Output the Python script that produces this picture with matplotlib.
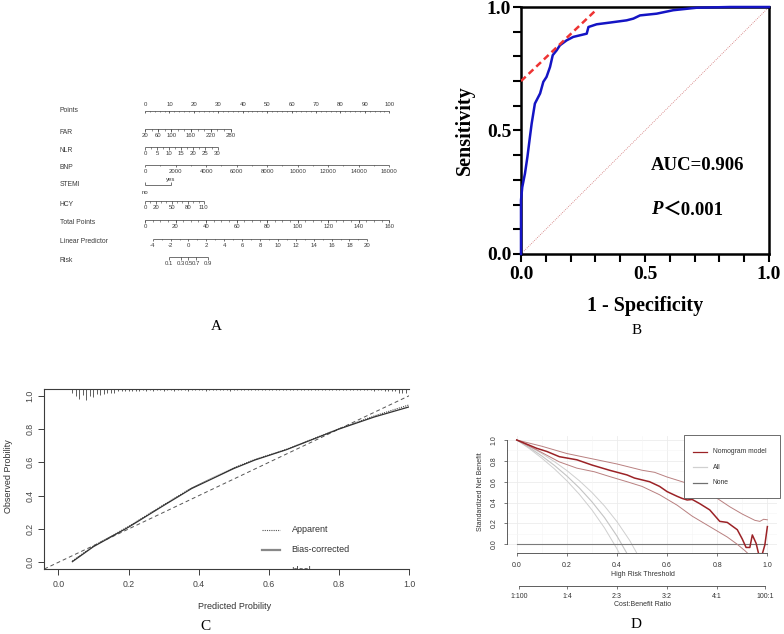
import numpy as np
import matplotlib
matplotlib.use('Agg')
import matplotlib.pyplot as plt
from matplotlib.transforms import Affine2D
from matplotlib.patches import Rectangle

# ============ DATA ============
# --- A: nomogram ---
points_ticks = [0, 10, 20, 30, 40, 50, 60, 70, 80, 90, 100]
far_values = [20, 60, 100, 160, 220, 280]
far_min = 20
far_points_per_unit = 35.0 / 260
nlr_values = [0, 5, 10, 15, 20, 25, 30]
nlr_points_per_unit = 0.99
bnp_values = [0, 2000, 4000, 6000, 8000, 10000, 12000, 14000, 16000]
bnp_points_per_unit = 100 / 16000
stemi_levels = ['no', 'yes']
stemi_points = [0, 10.5]
hcy_values = [0, 20, 50, 80, 110]
hcy_points_per_unit = 0.219
total_points_ticks = [0, 20, 40, 60, 80, 100, 120, 140, 160]
lp_ticks = [-4, -2, 0, 2, 4, 6, 8, 10, 12, 14, 16, 18, 20]
lp_intercept = -4.86
lp_per_total_point = 0.1707
risk_ticks = [0.1, 0.3, 0.5, 0.7, 0.9]
nomo_rows = ['Points', 'FAR', 'NLR', 'BNP', 'STEMI', 'HCY', 'Total Points',
             'Linear Predictor', 'Risk']

# --- B: ROC ---
roc_fpr = [0, 0, 0.005, 0.016, 0.026, 0.036, 0.043, 0.056, 0.077, 0.09, 0.103,
           0.117, 0.128, 0.144, 0.157, 0.184, 0.211, 0.265, 0.272, 0.305, 0.359,
           0.426, 0.453, 0.48, 0.547, 0.614, 0.708, 0.843, 1.0]
roc_tpr = [0, 0.218, 0.27, 0.326, 0.394, 0.474, 0.528, 0.609, 0.65, 0.697, 0.717,
           0.757, 0.805, 0.825, 0.845, 0.865, 0.879, 0.892, 0.919, 0.93, 0.937,
           0.946, 0.953, 0.966, 0.973, 0.987, 0.997, 1.0, 1.0]
tangent_x = [0.0, 0.305]
tangent_y = [0.70, 0.99]
auc_text = 'AUC=0.906'
p_text = '＜0.001'

# --- C: calibration ---
cal_pred = [0.04, 0.1, 0.2, 0.3, 0.38, 0.5, 0.56, 0.65, 0.8, 0.9, 1.0]
cal_apparent = [0.008, 0.098, 0.215, 0.345, 0.447, 0.567, 0.617, 0.678, 0.802, 0.878, 0.945]
cal_bias = [0.004, 0.094, 0.211, 0.341, 0.443, 0.563, 0.614, 0.676, 0.800, 0.872, 0.933]
rug_counts = [3, 6, 8, 5, 9, 6, 7, 4, 5, 4, 3, 3, 3, 2, 2, 2, 2, 2, 2, 2,
              1, 2, 1, 2, 1, 1, 2, 1, 1, 2, 1, 1, 1, 2, 1, 1, 1, 1, 2, 1,
              1, 1, 1, 1, 1, 2, 1, 1, 1, 1, 1, 1, 1, 1, 1, 1, 1, 1, 1, 1,
              1, 1, 1, 1, 1, 1, 1, 1, 1, 1, 1, 1, 1, 1, 1, 1, 1, 1, 1, 1,
              1, 1, 1, 1, 1, 1, 2, 1, 1, 2, 2, 2, 2, 3, 3, 3]
cal_legend = ['Apparent', 'Bias-corrected', 'Ideal']

# --- D: decision curve ---
model_t = [0, 0.04, 0.08, 0.12, 0.17, 0.24, 0.3, 0.37, 0.44, 0.47, 0.53, 0.57, 0.6,
           0.64, 0.66, 0.68, 0.7, 0.73, 0.77, 0.81, 0.84, 0.88, 0.9, 0.915, 0.93,
           0.94, 0.955, 0.965, 0.98, 0.99, 1.0]
model_nb = [1.0, 0.96, 0.92, 0.89, 0.84, 0.81, 0.76, 0.71, 0.665, 0.635, 0.60, 0.555,
            0.505, 0.46, 0.44, 0.425, 0.43, 0.39, 0.33, 0.22, 0.21, 0.14, 0.05, -0.03,
            -0.03, 0.09, 0.01, -0.09, -0.09, -0.005, 0.17]
upper_t = [0, 0.1, 0.2, 0.3, 0.4, 0.5, 0.55, 0.6, 0.7, 0.75, 0.8, 0.85, 0.9, 0.95,
           0.97, 0.985, 1.0]
upper_nb = [1.0, 0.94, 0.87, 0.82, 0.77, 0.71, 0.69, 0.645, 0.57, 0.51, 0.44, 0.36,
            0.29, 0.23, 0.22, 0.24, 0.235]
lower_t = [0, 0.08, 0.17, 0.24, 0.31, 0.37, 0.44, 0.5, 0.57, 0.64, 0.7, 0.77, 0.84,
           0.88, 0.91, 0.95]
lower_nb = [1.0, 0.905, 0.79, 0.73, 0.695, 0.65, 0.6, 0.555, 0.475, 0.375, 0.27, 0.17,
            0.07, 0.0, -0.06, -0.15]
all_t = [0, 0.05, 0.1, 0.15, 0.2, 0.25, 0.3, 0.35, 0.4, 0.45, 0.5]
all_mid = [1.0, 0.927, 0.847, 0.757, 0.655, 0.54, 0.408, 0.257, 0.079, -0.13, -0.38]
all_low = [1.0, 0.918, 0.826, 0.724, 0.609, 0.479, 0.33, 0.158, -0.043, -0.28, -0.56]
all_high = [1.0, 0.938, 0.87, 0.793, 0.707, 0.609, 0.497, 0.368, 0.217, 0.04, -0.174]
none_t = [0, 1]
none_nb = [0, 0]
cb_t = [0.0099, 0.2, 0.4, 0.6, 0.8, 0.99]
cb_labels = ['1:100', '1:4', '2:3', '3:2', '4:1', '100:1']
dca_legend = ['Nomogram model', 'All', 'None']

# ============ FIGURE ============
W, H = 784, 634
fig = plt.figure(figsize=(7.84, 6.34), dpi=100)
fig.patch.set_facecolor('white')
PX = Affine2D().scale(1 / W, -1 / H).translate(0, 1) + fig.transFigure

SANS = ['Liberation Sans', 'DejaVu Sans']
SERIF = ['Liberation Serif', 'Noto Sans CJK SC', 'DejaVu Serif']


def box(l, t, r, b):
    return [l / W, 1 - b / H, (r - l) / W, (b - t) / H]


def ftext(x, y, s, **kw):
    fig.text(x / W, 1 - y / H, s, **kw)


# ---------------- Panel A ----------------
axA = fig.add_axes(box(145, 90, 389.3, 275))
axA.set_xlim(0, 100)
axA.set_ylim(275, 90)
axA.axis('off')
cA = '#3a3a3a'
fsL, fsN = 4.9, 4.3
row_y = dict(zip(nomo_rows, [110.5, 132, 150, 167.5, 185, 204, 223, 241.5, 260]))


def draw_scale(y, major_pos, labels, minor_pos=(), above=False, up=False):
    allp = list(major_pos) + list(minor_pos)
    axA.hlines(y, min(allp), max(allp), color=cA, lw=0.5, clip_on=False)
    d = -1 if up else 1
    axA.vlines(major_pos, y, y + d * 2.6, color=cA, lw=0.5, clip_on=False)
    if len(minor_pos):
        axA.vlines(minor_pos, y, y + d * 1.6, color=cA, lw=0.4, clip_on=False)
    for p, l in zip(major_pos, labels):
        axA.text(p, y - 5.5 if above else y + 6.8, l, ha='center', va='center',
                 fontsize=fsN, color=cA, family=SANS, clip_on=False)


label_x = -34.8
for r in nomo_rows:
    axA.text(label_x, row_y[r], r, ha='left', va='center', fontsize=fsL, color=cA,
             family=SANS, clip_on=False)

# Points
draw_scale(row_y['Points'], points_ticks, [str(v) for v in points_ticks],
           minor_pos=np.arange(0, 101, 2), above=True)
# FAR
far_pos = [(v - far_min) * far_points_per_unit for v in far_values]
draw_scale(row_y['FAR'] - 3, far_pos, [str(v) for v in far_values],
           minor_pos=(np.arange(20, 281, 20) - far_min) * far_points_per_unit)
# NLR
draw_scale(row_y['NLR'] - 3, [v * nlr_points_per_unit for v in nlr_values],
           [str(v) for v in nlr_values],
           minor_pos=np.arange(2.5, 30, 5) * nlr_points_per_unit)
# BNP
draw_scale(row_y['BNP'] - 3, [v * bnp_points_per_unit for v in bnp_values],
           [str(v) for v in bnp_values],
           minor_pos=np.arange(1000, 16000, 2000) * bnp_points_per_unit)
# STEMI
ys = row_y['STEMI']
axA.hlines(ys, stemi_points[0], stemi_points[1], color=cA, lw=0.5)
axA.vlines(stemi_points, ys, ys - 2.6, color=cA, lw=0.5)
axA.text(stemi_points[0], ys + 7, stemi_levels[0], ha='center', va='center',
         fontsize=fsN, color=cA, family=SANS)
axA.text(stemi_points[1], ys - 5.8, stemi_levels[1], ha='center', va='center',
         fontsize=fsN, color=cA, family=SANS)
# HCY
draw_scale(row_y['HCY'] - 3, [v * hcy_points_per_unit for v in hcy_values],
           [str(v) for v in hcy_values],
           minor_pos=np.array([10, 30, 40, 60, 70, 90, 100]) * hcy_points_per_unit)
# Total points
tp2pts = 100 / 160
draw_scale(row_y['Total Points'] - 3, [v * tp2pts for v in total_points_ticks],
           [str(v) for v in total_points_ticks],
           minor_pos=np.arange(0, 161, 5) * tp2pts)


def lp_to_pts(lp):
    return (np.asarray(lp, float) - lp_intercept) / lp_per_total_point * tp2pts


draw_scale(row_y['Linear Predictor'] - 3, lp_to_pts(lp_ticks),
           [str(v) for v in lp_ticks], minor_pos=lp_to_pts(np.arange(-3, 20, 2)))
risk_lp = np.log(np.array(risk_ticks) / (1 - np.array(risk_ticks)))
draw_scale(row_y['Risk'] - 3, lp_to_pts(risk_lp), [str(v) for v in risk_ticks])

ftext(216, 327, 'A', ha='center', va='center', fontsize=11, family=SERIF)

# ---------------- Panel B ----------------
axB = fig.add_axes(box(521, 7, 769, 254))
axB.set_xlim(0, 1)
axB.set_ylim(0, 1)
axB.plot([0, 1], [0, 1], color='#d07070', lw=0.6, ls=(0, (1, 1.5)))
axB.plot(roc_fpr, roc_tpr, color='#1414c4', lw=1.8, clip_on=False, zorder=3)
axB.plot(tangent_x, tangent_y, color='#ee3333', lw=1.8, ls=(0, (2.6, 1.6)), zorder=4)
for s in axB.spines.values():
    s.set_linewidth(1.8)
axB.set_xticks([0, 0.5, 1.0])
axB.set_yticks([0, 0.5, 1.0])
axB.set_xticks(np.arange(0, 1.01, 0.1), minor=True)
axB.set_yticks(np.arange(0, 1.01, 0.1), minor=True)
axB.set_xticklabels(['0.0', '0.5', '1.0'])
axB.set_yticklabels(['0.0', '0.5', '1.0'])
axB.tick_params(which='both', direction='out', length=6, width=1.5)
axB.tick_params(axis='x', pad=3)
axB.tick_params(axis='y', pad=1)
for lab in axB.get_xticklabels() + axB.get_yticklabels():
    lab.set_fontfamily(SERIF)
    lab.set_fontweight('bold')
    lab.set_fontsize(14)
ftext(465, 130.5, 'Sensitivity', rotation=90, ha='center', va='center',
      fontsize=14.5, fontweight='bold', family=SERIF)
ftext(645, 306.5, '1 - Specificity', ha='center', va='center',
      fontsize=14.5, fontweight='bold', family=SERIF)
ftext(651, 166, auc_text, ha='left', va='center', fontsize=13.5,
      fontweight='bold', family=SERIF)
ftext(651, 210, 'P', ha='left', va='center', fontsize=13.5, fontweight='bold',
      fontstyle='italic', family=SERIF)
ftext(662, 210, p_text, ha='left', va='center', fontsize=13.5, fontweight='bold',
      family=SERIF)
ftext(637, 331, 'B', ha='center', va='center', fontsize=11, family=SERIF)

# ---------------- Panel C ----------------
cC = '#3c3c3c'
axC = fig.add_axes(box(44.3, 389, 409.3, 569))
axC.set_xlim(-0.04, 1.0)
axC.set_ylim(-0.04, 1.04)
axC.spines['right'].set_visible(False)
for s in ['left', 'top', 'bottom']:
    axC.spines[s].set_linewidth(0.8)
    axC.spines[s].set_color(cC)
axC.plot([-0.04, 1.04], [-0.04, 1.04], color='#555555', lw=0.7, ls=(0, (4, 3)))
axC.plot(cal_pred, cal_apparent, color='#444444', lw=0.8, ls=(0, (1, 1)))
axC.plot(cal_pred, cal_bias, color='#333333', lw=0.9)
rug_x = np.arange(len(rug_counts)) * 0.01 + 0.04
rug_len = np.array(rug_counts) * 1.2 / 166.6
axC.vlines(rug_x, 1.04 - rug_len, 1.04, color='#444444', lw=0.6)
ticks = [0, 0.2, 0.4, 0.6, 0.8, 1.0]
axC.set_xticks(ticks)
axC.set_yticks(ticks)
axC.set_xticklabels(['%.1f' % t for t in ticks])
axC.set_yticklabels(['%.1f' % t for t in ticks], rotation=90, va='center')
axC.tick_params(direction='out', length=4, width=0.7, color=cC, labelsize=6.3,
                labelcolor='#444444')
axC.tick_params(axis='x', pad=4)
axC.tick_params(axis='y', pad=3)
for lab in axC.get_xticklabels() + axC.get_yticklabels():
    lab.set_fontfamily(SANS)
# legend (clipped by plot region like the original)
leg_styles = [(0, (1, 1)), '-', (0, (3, 2))]
leg_colors = ['#555555', '#888888', '#555555']
leg_lw = [0.8, 1.6, 0.8]
for i, (lab, y) in enumerate(zip(cal_legend, [530, 550, 570.5])):
    axC.plot([262, 280], [y, y], transform=PX, color=leg_colors[i],
             lw=leg_lw[i], ls=leg_styles[i], clip_on=True,
             clip_box=axC.bbox)
    t = axC.text(291.5, y, lab, transform=PX, ha='left', va='center',
                 fontsize=6.5, color='#333333', family=SANS, clip_on=True)
ftext(235, 606.5, 'Predicted Probility', ha='center', va='center', fontsize=6.5,
      color='#333333', family=SANS)
ftext(8.5, 476.5, 'Observed Probility', rotation=90, ha='center', va='center',
      fontsize=6.5, color='#333333', family=SANS)
ftext(205, 626, 'C', ha='center', va='center', fontsize=11, family=SERIF)

# ---------------- Panel D ----------------
cD = '#444444'
axD = fig.add_axes(box(506.7, 435.8, 777.4, 553.3))
axD.set_xlim(-0.04, 1.04)
axD.set_ylim(-0.086, 1.04)
for s in ['top', 'right']:
    axD.spines[s].set_visible(False)
axD.spines['left'].set_bounds(0, 1)
axD.spines['bottom'].set_bounds(0, 1)
for s in ['left', 'bottom']:
    axD.spines[s].set_linewidth(0.6)
    axD.spines[s].set_color(cD)
gt = [0, 0.2, 0.4, 0.6, 0.8, 1.0]
for g in gt:
    axD.axvline(g, color='#ececec', lw=0.6, zorder=0)
    axD.axhline(g, color='#ececec', lw=0.6, zorder=0)
for g in [0.1, 0.3, 0.5, 0.7, 0.9]:
    axD.axvline(g, color='#f5f5f5', lw=0.4, zorder=0)
    axD.axhline(g, color='#f5f5f5', lw=0.4, zorder=0)
axD.plot(all_t, all_low, color='#cfcfcf', lw=0.7)
axD.plot(all_t, all_high, color='#cfcfcf', lw=0.7)
axD.plot(all_t, all_mid, color='#c4c4c4', lw=0.8)
axD.plot(none_t, none_nb, color='#7a7a7a', lw=0.8)
axD.plot(upper_t, upper_nb, color='#b98080', lw=0.7)
axD.plot(lower_t, lower_nb, color='#b98080', lw=0.7)
axD.plot(model_t, model_nb, color='#9b2226', lw=1.1)
axD.set_xticks(gt)
axD.set_yticks(gt)
axD.set_xticklabels(['%.1f' % t for t in gt])
axD.set_yticklabels(['%.1f' % t for t in gt], rotation=90, va='center')
axD.tick_params(direction='out', length=2.5, width=0.5, color=cD, labelsize=5,
                labelcolor='#333333', pad=4)
for lab in axD.get_xticklabels() + axD.get_yticklabels():
    lab.set_fontfamily(SANS)
ftext(642.5, 575, 'High Risk Threshold', ha='center', va='center', fontsize=5,
      color='#333333', family=SANS)
ftext(480, 491.5, 'Standardized Net Benefit', rotation=90, ha='center',
      va='center', fontsize=5, color='#333333', family=SANS)

# cost:benefit axis
axD2 = fig.add_axes(box(506.7, 575, 777.4, 585.7))
axD2.set_xlim(-0.04, 1.04)
axD2.patch.set_visible(False)
for s in ['top', 'right', 'left']:
    axD2.spines[s].set_visible(False)
axD2.spines['bottom'].set_bounds(cb_t[0], cb_t[-1])
axD2.spines['bottom'].set_linewidth(0.6)
axD2.spines['bottom'].set_color(cD)
axD2.set_yticks([])
axD2.set_xticks(cb_t)
axD2.set_xticklabels(cb_labels)
axD2.tick_params(direction='out', length=2.5, width=0.5, color=cD, labelsize=5,
                 labelcolor='#333333', pad=3)
for lab in axD2.get_xticklabels():
    lab.set_fontfamily(SANS)
ftext(643, 604.3, 'Cost:Benefit Ratio', ha='center', va='center', fontsize=5,
      color='#333333', family=SANS)

# legend
axD.add_patch(Rectangle((684, 435), 96, 63.3, transform=PX, clip_on=False,
                        facecolor='white', edgecolor='#555555', lw=0.6, zorder=5))
leg_c = ['#9b2226', '#d0d0d0', '#707070']
for i, (lab, y) in enumerate(zip(dca_legend, [451.7, 467.3, 482.7])):
    axD.plot([693.3, 706.7], [y, y], transform=PX, color=leg_c[i], lw=0.9,
             clip_on=False, zorder=6)
    axD.text(712.7, y, lab, transform=PX, ha='left', va='center', fontsize=4.9,
             color='#333333', family=SANS, zorder=6, clip_on=False)
ftext(636.5, 625, 'D', ha='center', va='center', fontsize=11, family=SERIF)

fig.savefig('out.png', dpi=100)
